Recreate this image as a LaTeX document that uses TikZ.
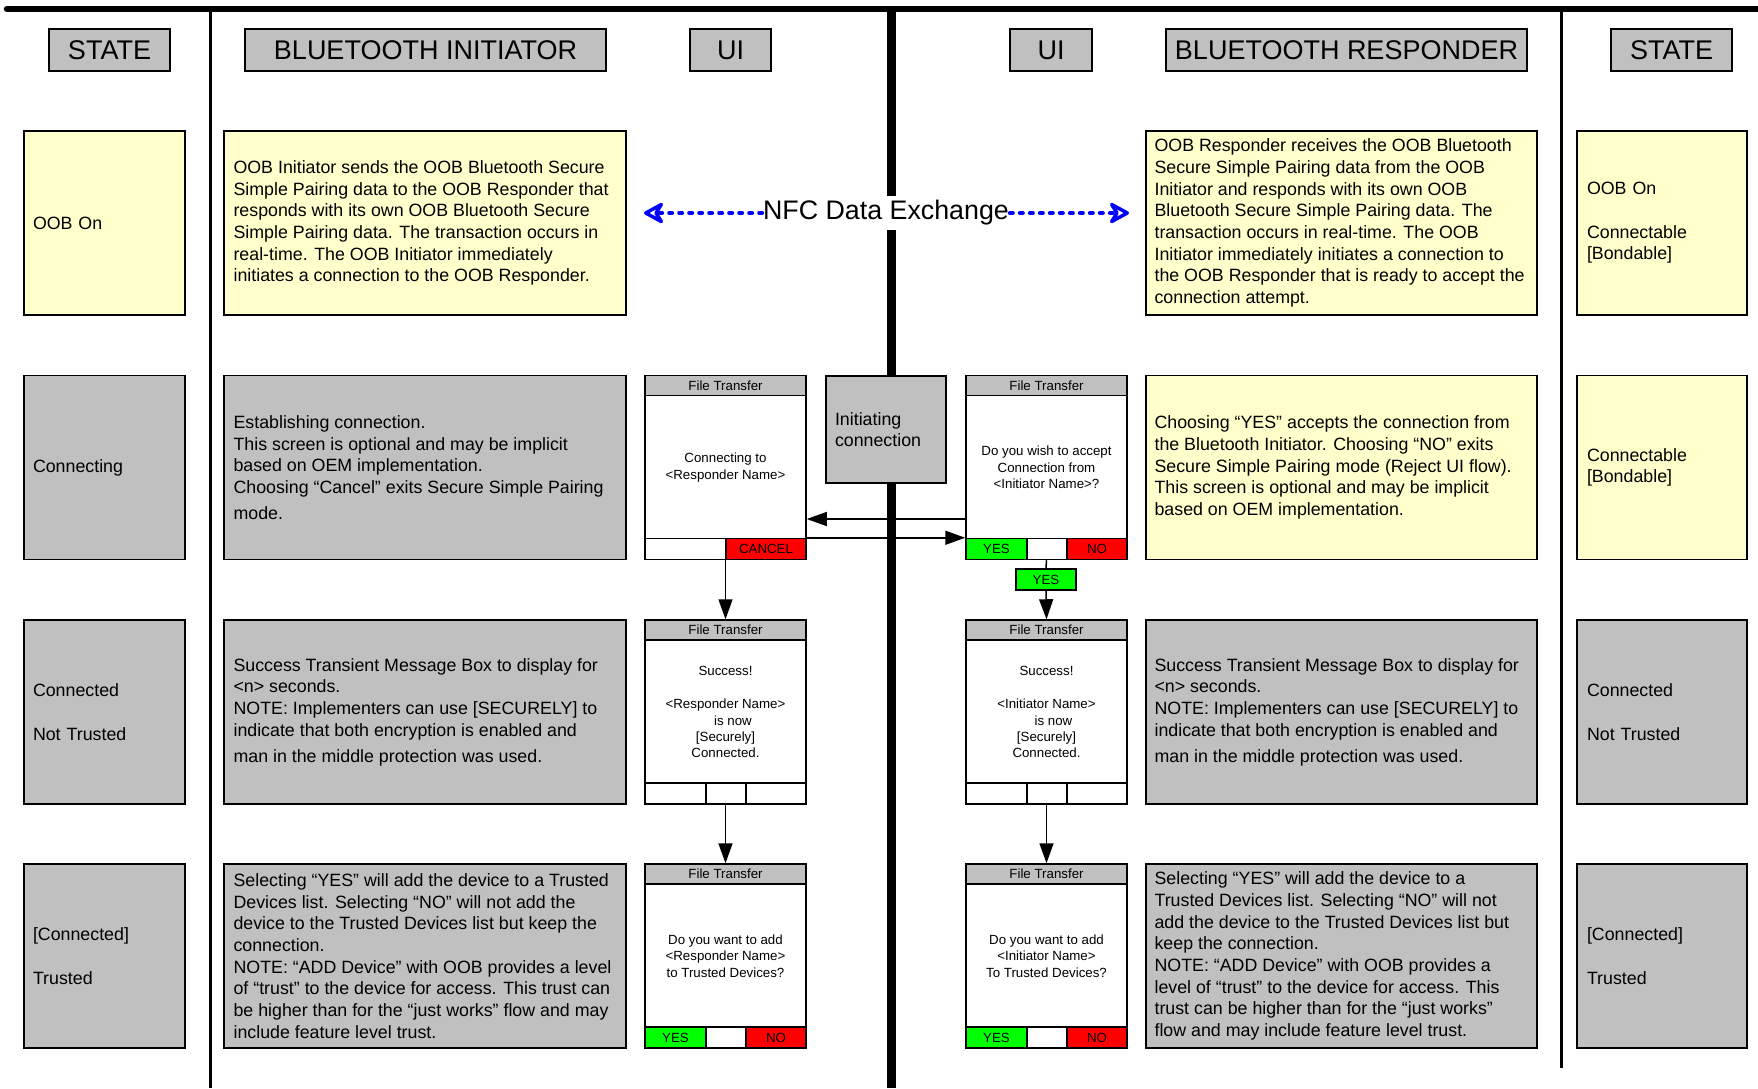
\documentclass[tikz,border=0pt]{standalone}
\usepackage{fontspec}
\setmainfont{Liberation Sans}
\usetikzlibrary{arrows.meta}

\definecolor{boxgray}{HTML}{C0C0C0}
\definecolor{noteyellow}{HTML}{FFFFCC}
\definecolor{yesgreen}{HTML}{00FF00}
\definecolor{nored}{HTML}{FF0000}
\definecolor{nfcblue}{HTML}{0000FF}

\newcommand\headfont{\fontsize{27}{31}\selectfont}
\newcommand\lanefont{\fontsize{17.8}{21.7}\selectfont}
\newcommand\screenfont{\fontsize{13.3}{16.3}\selectfont}

\begin{document}
\begin{tikzpicture}[x=1pt,y=-1pt,
    hdr/.style={draw, fill=boxgray, line width=1.3pt, minimum height=42pt, inner sep=0pt, font=\headfont},
    lane/.style={draw, line width=1.3pt, minimum height=184pt, inner sep=0pt},
    note/.style={lane, fill=noteyellow},
    plain/.style={lane, fill=boxgray},
    state/.style={align=left, text width=143pt, inner xsep=9pt, font=\lanefont},
    lanetext/.style={anchor=west, align=left, inner sep=0pt, font=\lanefont},
    screen/.style={draw, fill=white, line width=1.5pt, minimum width=161pt, minimum height=184pt, inner sep=0pt},
    titlebar/.style={draw, fill=boxgray, line width=1.5pt, minimum width=161pt, minimum height=20pt, inner sep=0pt, anchor=north, font=\screenfont},
    key/.style={draw, line width=1.5pt, minimum height=21pt, inner sep=0pt, font=\screenfont},
    screentext/.style={align=center, font=\screenfont},
    flow/.style={-{Triangle[length=20pt,width=14pt]}, line width=1.5pt},
    nfc/.style={-{Stealth[length=24pt,width=26pt,inset=8pt,open,round,line width=3.5pt]}, nfcblue, line width=4.5pt, dash pattern=on 2.5pt off 7.5pt, line cap=round}]

    \useasboundingbox (0,0) rectangle (1758,1088);

    % swim lanes
    \draw[line width=9pt] (891,9) -- (891,1088);
    \draw[line width=6.5pt, line cap=round] (7,9) -- (1758,9);
    \draw[line width=3pt] (210,9) -- (210,1088);
    \draw[line width=3pt] (1561,9) -- (1561,1068);

    % column headings
    \node[hdr, minimum width=121pt] (stL) at (109.5,50) {STATE};
    \node[hdr, minimum width=361pt] (btI) at (425.5,50) {BLUETOOTH INITIATOR};
    \node[hdr, minimum width=81pt] (uiL) at (730.5,50) {UI};
    \node[hdr, minimum width=82pt] (uiR) at (1051,50) {UI};
    \node[hdr, minimum width=361pt] (btR) at (1346.5,50) {BLUETOOTH RESPONDER};
    \node[hdr, minimum width=121pt] (stR) at (1671.5,50) {STATE};

    % OOB exchange
    \node[note, state] (stL1) at (104.5,223) {OOB On};
    \node[note, minimum width=402pt] (ini1) at (425,223) {};
    \node[lanetext] (ini1x) at ([xshift=10pt]ini1.west) {OOB Initiator sends the OOB Bluetooth Secure\\
        Simple Pairing data to the OOB Responder that\\
        responds with its own OOB Bluetooth Secure\\
        Simple Pairing data.  The transaction occurs in\\
        real-time.  The OOB Initiator immediately\\
        initiates a connection to the OOB Responder.};
    \node[note, minimum width=391pt] (rsp1) at (1341.5,223) {};
    \node[lanetext] (rsp1x) at ([xshift=9pt]rsp1.west) {OOB Responder receives the OOB Bluetooth\\
        Secure Simple Pairing data from the OOB\\
        Initiator and responds with its own OOB\\
        Bluetooth Secure Simple Pairing data.  The\\
        transaction occurs in real-time.  The OOB\\
        Initiator immediately initiates a connection to\\
        the OOB Responder that is ready to accept the\\
        connection attempt.};
    \node[note, state, text width=150pt, inner xsep=10pt] (stR1) at (1662,223) {OOB On\\[21.7pt]Connectable\\{[Bondable]}};

    \node[fill=white, inner xsep=1pt, inner ysep=5pt, font=\fontsize{26.8}{31}\selectfont] (nfc) at (886,213) {NFC Data Exchange};
    \coordinate (nfcI) at (644,213);
    \coordinate (nfcR) at (1129,213);
    \draw[nfc] (nfc.west) -- (nfcI);
    \draw[nfc] (nfc.east) -- (nfcR);

    % connecting
    \node[plain, state] (stL2) at (104.5,467.5) {Connecting};
    \node[plain, minimum width=402pt] (ini2) at (425,467.5) {};
    \node[lanetext] (ini2x) at ([xshift=10pt]ini2.west) {Establishing connection.\\
        This screen is optional and may be implicit\\
        based on OEM implementation.\\
        Choosing “Cancel” exits Secure Simple Pairing\\[4pt]
        mode.};
    \node[plain, minimum width=120pt, minimum height=107pt, text width=102pt, inner xsep=9pt, align=left, font=\lanefont] (initc) at (886,429.5) {Initiating\\connection};
    \node[note, minimum width=391pt] (rsp2) at (1341.5,467.5) {};
    \node[lanetext] (rsp2x) at ([xshift=9pt]rsp2.west) {Choosing “YES” accepts the connection from\\
        the Bluetooth Initiator. Choosing “NO” exits\\
        Secure Simple Pairing mode (Reject UI flow).\\
        This screen is optional and may be implicit\\
        based on OEM implementation.};
    \node[note, state, text width=150pt, inner xsep=10pt] (stR2) at (1662,467.5) {Connectable\\{[Bondable]}};

    % connected
    \node[plain, state] (stL3) at (104.5,712) {Connected\\[21.7pt]Not Trusted};
    \node[plain, minimum width=402pt] (ini3) at (425,712) {};
    \node[lanetext] (ini3x) at ([xshift=10pt]ini3.west) {Success Transient Message Box to display for\\
        <n> seconds.\\
        NOTE: Implementers can use [SECURELY] to\\
        indicate that both encryption is enabled and\\[4pt]
        man in the middle protection was used.};
    \node[plain, minimum width=391pt] (rsp3) at (1341.5,712) {};
    \node[lanetext] (rsp3x) at ([xshift=9pt]rsp3.west) {Success Transient Message Box to display for\\
        <n> seconds.\\
        NOTE: Implementers can use [SECURELY] to\\
        indicate that both encryption is enabled and\\[4pt]
        man in the middle protection was used.};
    \node[plain, state, text width=150pt, inner xsep=10pt] (stR3) at (1662,712) {Connected\\[21.7pt]Not Trusted};

    % trusted
    \node[plain, state] (stL4) at (104.5,956) {[Connected]\\[21.7pt]Trusted};
    \node[plain, minimum width=402pt] (ini4) at (425,956) {};
    \node[lanetext] (ini4x) at ([xshift=10pt]ini4.west) {Selecting “YES” will add the device to a Trusted\\
        Devices list.  Selecting “NO” will not add the\\
        device to the Trusted Devices list but keep the\\
        connection.\\
        NOTE: “ADD Device” with OOB provides a level\\
        of “trust” to the device for access.  This trust can\\
        be higher than for the “just works” flow and may\\
        include feature level trust.};
    \node[plain, minimum width=391pt] (rsp4) at (1341.5,956) {};
    \node[lanetext] (rsp4x) at ([xshift=9pt]rsp4.west) {Selecting “YES” will add the device to a\\
        Trusted Devices list.  Selecting “NO” will not\\
        add the device to the Trusted Devices list but\\
        keep the connection.\\
        NOTE: “ADD Device” with OOB provides a\\
        level of “trust” to the device for access.  This\\
        trust can be higher than for the “just works”\\
        flow and may include feature level trust.};
    \node[plain, state, text width=150pt, inner xsep=10pt] (stR4) at (1662,956) {[Connected]\\[21.7pt]Trusted};

    % initiator screens
    \node[screen] (scrI1) at (725.5,467.5) {};
    \node[titlebar] (barI1) at (scrI1.north) {File Transfer};
    \node[key, minimum width=81pt, anchor=south west] (keyI1a) at (scrI1.south west) {};
    \node[key, minimum width=80pt, anchor=south east, fill=nored] (keyI1c) at (scrI1.south east) {CANCEL};
    \node[screentext] (txtI1) at (scrI1.center) {Connecting to\\<Responder Name>};

    \node[screen] (scrI2) at (725.5,712) {};
    \node[titlebar] (barI2) at (scrI2.north) {File Transfer};
    \node[key, minimum width=61pt, anchor=south west] (keyI2a) at (scrI2.south west) {};
    \node[key, minimum width=40pt, anchor=south] (keyI2b) at (scrI2.south) {};
    \node[key, minimum width=60pt, anchor=south east] (keyI2c) at (scrI2.south east) {};
    \node[screentext] (txtI2) at (scrI2.center) {Success!\\[17pt]<Responder Name>\\\hspace*{15pt}is now\\{[Securely]}\\Connected.};

    \node[screen] (scrI3) at (725.5,956) {};
    \node[titlebar] (barI3) at (scrI3.north) {File Transfer};
    \node[key, minimum width=61pt, anchor=south west, fill=yesgreen] (keyI3a) at (scrI3.south west) {YES};
    \node[key, minimum width=40pt, anchor=south] (keyI3b) at (scrI3.south) {};
    \node[key, minimum width=60pt, anchor=south east, fill=nored] (keyI3c) at (scrI3.south east) {NO};
    \node[screentext] (txtI3) at (scrI3.center) {Do you want to add\\<Responder Name>\\to Trusted Devices?};

    % responder screens
    \node[screen] (scrR1) at (1046.5,467.5) {};
    \node[titlebar] (barR1) at (scrR1.north) {File Transfer};
    \node[key, minimum width=61pt, anchor=south west, fill=yesgreen] (keyR1a) at (scrR1.south west) {YES};
    \node[key, minimum width=40pt, anchor=south] (keyR1b) at (scrR1.south) {};
    \node[key, minimum width=60pt, anchor=south east, fill=nored] (keyR1c) at (scrR1.south east) {NO};
    \node[screentext] (txtR1) at (scrR1.center) {Do you wish to accept\\Connection from\\<Initiator Name>?};

    \node[screen] (scrR2) at (1046.5,712) {};
    \node[titlebar] (barR2) at (scrR2.north) {File Transfer};
    \node[key, minimum width=61pt, anchor=south west] (keyR2a) at (scrR2.south west) {};
    \node[key, minimum width=40pt, anchor=south] (keyR2b) at (scrR2.south) {};
    \node[key, minimum width=60pt, anchor=south east] (keyR2c) at (scrR2.south east) {};
    \node[screentext] (txtR2) at (scrR2.center) {Success!\\[17pt]<Initiator Name>\\\hspace*{14pt}is now\\{[Securely]}\\Connected.};

    \node[screen] (scrR3) at (1046.5,956) {};
    \node[titlebar] (barR3) at (scrR3.north) {File Transfer};
    \node[key, minimum width=61pt, anchor=south west, fill=yesgreen] (keyR3a) at (scrR3.south west) {YES};
    \node[key, minimum width=40pt, anchor=south] (keyR3b) at (scrR3.south) {};
    \node[key, minimum width=60pt, anchor=south east, fill=nored] (keyR3c) at (scrR3.south east) {NO};
    \node[screentext] (txtR3) at (scrR3.center) {Do you want to add\\<Initiator Name>\\To Trusted Devices?};

    \node[key, minimum width=60pt, fill=yesgreen] (yesR) at (1046,579.5) {YES};

    % screen flow
    \draw[flow] ([yshift=-51.5pt]scrR1.west) -- ([yshift=-51.5pt]scrI1.east);
    \draw[flow] (keyI1c.north east) -- (keyR1a.north west);
    \draw[flow] (scrI1.south) -- (scrI2.north);
    \draw[flow] (scrI2.south) -- (scrI3.north);
    \draw[line width=1.5pt] (scrR1.south) -- (yesR.north);
    \draw[flow] (yesR.south) -- (scrR2.north);
    \draw[flow] (scrR2.south) -- (scrR3.north);
\end{tikzpicture}
\end{document}
